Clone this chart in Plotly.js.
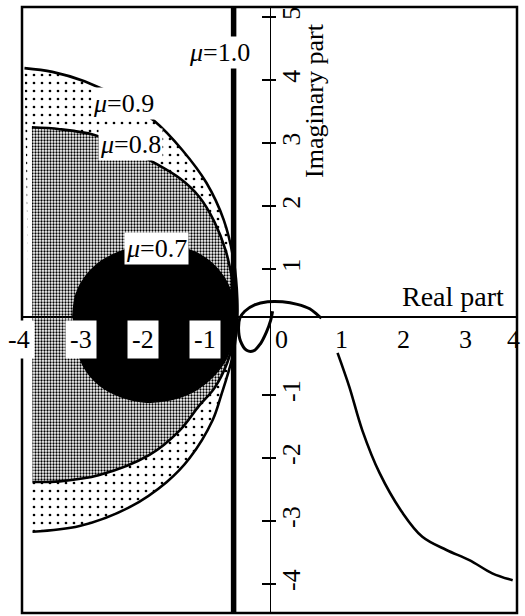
<!DOCTYPE html>
<html>
<head>
<meta charset="utf-8">
<script src="https://cdn.plot.ly/plotly-3.0.1.min.js"></script>
<style>html,body{margin:0;padding:0;background:#fff;}#chart{width:525px;height:616px;}</style>
</head>
<body>
<div id="chart"></div>
<script>
// ---- data ----
const xTickVals   = [-4, -3, -2, -1, 0, 1, 2, 3, 4];
const xTickLabels = ['-4', '-3', '-2', '-1', '0', '1', '2', '3', '4'];
const yTickVals   = [-4, -3, -2, -1, 1, 2, 3, 4, 5];
const yTickLabels = ['-4', '-3', '-2', '-1', '1', '2', '3', '4', '5'];

// mu = 0.9 boundary (outer, sparse dots)
const mu09Re = [-3.96, -3.51, -2.99, -2.41, -1.86, -1.41, -1.02, -0.74, -0.58, -0.52,
                -0.53, -0.61, -0.78, -0.92, -1.29, -1.66, -2.26, -3.07, -3.83];
const mu09Im = [4.19, 4.13, 3.98, 3.71, 3.35, 2.89, 2.37, 1.78, 1.14, 0.51,
                0.03, -0.44, -1.00, -1.40, -2.00, -2.38, -2.78, -3.08, -3.17];
// mu = 0.8 boundary (dense dots)
const mu08Re = [-3.84, -3.39, -2.83, -2.34, -1.94, -1.45, -1.13, -0.89, -0.71, -0.60, -0.53,
                -0.57, -0.68, -0.89, -1.13, -1.45, -1.94, -2.75, -3.39, -3.83];
const mu08Im = [3.25, 3.22, 3.13, 2.94, 2.73, 2.44, 2.14, 1.75, 1.30, 0.83, 0.38,
                -0.05, -0.48, -0.89, -1.16, -1.56, -1.95, -2.27, -2.37, -2.38];
// mu = 0.7 boundary (solid black disc)
const mu07Re = [-3.18, -3.13, -2.99, -2.78, -2.50, -2.18, -1.86, -1.53, -1.21, -0.94, -0.73, -0.60,
                -0.53, -0.58, -0.71, -0.94, -1.24, -1.62, -2.02, -2.42, -2.75, -2.99, -3.13];
const mu07Im = [0.22, 0.59, 0.86, 1.08, 1.24, 1.35, 1.38, 1.37, 1.27, 1.10, 0.86, 0.57,
                0.25, -0.10, -0.44, -0.73, -0.95, -1.08, -1.11, -1.02, -0.84, -0.57, -0.21];
// mu = 1.0 boundary (vertical heavy line)
const mu10Re = [-0.58, -0.58];
const mu10Im = [-4.46, 5.16];
// locus near the origin
const loopRe = [0.05, 0.02, -0.05, -0.15, -0.26, -0.37, -0.47, -0.50, -0.48, -0.40, -0.24,
                -0.03, 0.21, 0.45, 0.65, 0.78, 0.84];
const loopIm = [0.33, 0.19, 0.00, -0.19, -0.30, -0.29, -0.14, 0.05, 0.22, 0.33, 0.43,
                0.48, 0.48, 0.44, 0.37, 0.27, 0.22];
// locus branch to the lower right
const tailRe = [1.10, 1.29, 1.50, 1.78, 2.15, 2.47, 2.86, 3.23, 3.60, 3.93];
const tailIm = [-0.33, -0.87, -1.56, -2.24, -2.87, -3.25, -3.46, -3.62, -3.83, -3.94];

const muLabels = ['<i>μ</i>=1.0', '<i>μ</i>=0.9', '<i>μ</i>=0.8', '<i>μ</i>=0.7'];

// ---- drawing ----
const SERIF = 'Liberation Serif, Times New Roman, serif';
const X_AXIS_POS = 0.49;

const traces = [
  {x: mu09Re, y: mu09Im, mode: 'lines', fill: 'toself', line: {width: 0, shape: 'spline'},
   fillcolor: 'white',
   fillpattern: {shape: '.', size: 8, solidity: 0.09, fgcolor: 'black', bgcolor: 'white'}},
  {x: mu09Re, y: mu09Im, mode: 'lines', line: {color: 'black', width: 2.6, shape: 'spline'}},
  {x: mu08Re, y: mu08Im, mode: 'lines', fill: 'toself', line: {width: 0, shape: 'spline'},
   fillcolor: 'white',
   fillpattern: {shape: '.', size: 3, solidity: 0.45, fgcolor: 'black', bgcolor: 'white'}},
  {x: mu08Re, y: mu08Im, mode: 'lines', line: {color: 'black', width: 2.6, shape: 'spline'}},
  {x: mu07Re, y: mu07Im, mode: 'lines', fill: 'toself', fillcolor: 'black',
   line: {color: 'black', width: 1.5, shape: 'spline'}},
  {x: mu10Re, y: mu10Im, mode: 'lines', line: {color: 'black', width: 5.5}},
  {x: loopRe, y: loopIm, mode: 'lines', line: {color: 'black', width: 3, shape: 'spline'}},
  {x: tailRe, y: tailIm, mode: 'lines', line: {color: 'black', width: 2.6, shape: 'spline'}}
].map(t => Object.assign(t, {showlegend: false, hoverinfo: 'skip'}));

const annotations = [];
const xMax = Math.max(...xTickVals);
xTickVals.forEach((v, i) => {
  const shift = v < 0 ? -3 : (v === 0 ? 12 : (v === xMax ? -4 : 10));
  annotations.push({
    x: v, xref: 'x', y: X_AXIS_POS, yref: 'paper', yshift: -23, xshift: shift,
    text: xTickLabels[i], showarrow: false, bgcolor: v < 0 ? 'white' : 'rgba(0,0,0,0)',
    borderpad: 4, font: {family: SERIF, size: 26, color: 'black'}
  });
});
const muPos = [[-0.81, 4.44], [-2.36, 3.63], [-2.25, 2.97], [-1.83, 1.33]];
muLabels.forEach((t, i) => {
  annotations.push({
    x: muPos[i][0], y: muPos[i][1], xref: 'x', yref: 'y', text: t, showarrow: false,
    bgcolor: 'white', borderpad: 1, font: {family: SERIF, size: 26, color: 'black'}
  });
});
annotations.push({x: 2.96, y: 0.57, xref: 'x', yref: 'y', text: 'Real part', showarrow: false,
  font: {family: SERIF, size: 28, color: 'black'}});
annotations.push({x: 0.73, y: 3.68, xref: 'x', yref: 'y', text: 'Imaginary part', showarrow: false,
  textangle: -90, font: {family: SERIF, size: 26, color: 'black'}});

const yRange = [-4.46, 5.16];
const layout = {
  width: 525, height: 616,
  margin: {l: 22, r: 8, t: 7, b: 3, pad: 0},
  paper_bgcolor: 'white', plot_bgcolor: 'white',
  showlegend: false,
  xaxis: {range: [-4, 4], anchor: 'free', position: X_AXIS_POS, showgrid: false, zeroline: false,
          showline: true, linecolor: 'black', linewidth: 1.5, ticks: '', showticklabels: false,
          fixedrange: true},
  yaxis: {range: yRange, anchor: 'free', position: 0.5, side: 'right', showgrid: false,
          zeroline: false, showline: true, linecolor: 'black', linewidth: 1.5,
          tickmode: 'array', tickvals: yTickVals, ticktext: yTickLabels, tickangle: -90,
          ticks: 'outside', ticklen: 5, tickwidth: 2, tickcolor: 'black', ticklabelstandoff: -7,
          tickfont: {family: SERIF, size: 26, color: 'black'}, fixedrange: true},
  yaxis2: {range: yRange, overlaying: 'y', anchor: 'free', position: 0.5, side: 'left',
           showgrid: false, zeroline: false, showline: false,
           tickmode: 'array', tickvals: yTickVals, ticks: 'outside', ticklen: 8, tickwidth: 2,
           tickcolor: 'black', showticklabels: false, fixedrange: true},
  shapes: [{type: 'rect', xref: 'paper', yref: 'paper', x0: 0, x1: 1, y0: 0, y1: 1,
            line: {color: 'black', width: 2.5}, layer: 'above'}],
  annotations: annotations
};
// empty trace so the overlaying axis (crossing tick marks) is drawn
traces.push({x: [], y: [], yaxis: 'y2', mode: 'lines', showlegend: false, hoverinfo: 'skip'});

Plotly.newPlot('chart', traces, layout, {displayModeBar: false, staticPlot: true});
</script>
</body>
</html>
